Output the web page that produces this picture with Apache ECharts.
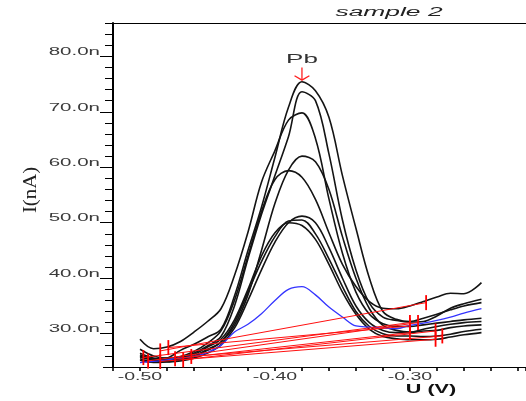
<!DOCTYPE html>
<html><head><meta charset="utf-8">
<script src="https://cdn.jsdelivr.net/npm/echarts@6/dist/echarts.min.js"></script>
<style>html,body{margin:0;padding:0;background:#fff}#c{width:526px;height:401px}</style>
</head><body><div id="c"></div>
<script>
// Potential (V) sampling grid
const xs = [-0.50,-0.49,-0.48,-0.47,-0.46,-0.45,-0.44,-0.43,-0.42,-0.41,-0.40,-0.39,-0.38,-0.37,-0.36,-0.35,-0.34,-0.33,-0.32,-0.31,-0.30,-0.29,-0.28,-0.27,-0.26,-0.247];
// Currents (nA), black voltammograms
const curveA = [26.0,25.4,25.6,27.0,28.1,29.4,30.8,36.8,45.0,52.8,61.8,70.8,75.4,73.8,69.0,58.5,49.0,40.0,34.0,32.6,32.2,32.8,33.5,34.3,35.0,35.6];
const curveB = [25.5,25.0,25.0,25.6,26.5,27.8,29.5,35.0,43.5,51.5,58.5,65.5,73.6,72.0,62.4,50.5,41.5,35.5,33.0,32.4,32.1,32.2,33.2,34.6,35.4,36.2];
const curveC = [29.0,27.3,27.6,28.6,30.3,32.2,34.5,40.5,48.3,57.3,63.0,68.5,69.8,65.2,54.3,44.5,37.5,33.5,31.8,31.3,31.3,31.6,31.9,32.2,32.5,32.8];
const curveD = [26.5,25.6,25.3,25.5,26.0,27.2,28.5,31.5,37.0,45.0,53.5,59.5,62.0,61.0,56.0,47.5,40.0,34.5,31.5,30.6,30.3,30.8,31.3,31.7,32.0,32.2];
const curveE = [27.2,26.0,25.6,25.9,26.8,28.3,30.5,36.0,44.0,52.0,57.8,59.4,58.2,54.2,48.2,42.5,38.5,35.8,34.6,34.5,35.0,35.8,36.6,37.3,37.2,39.2];
const curveF = [25.2,24.8,24.9,25.1,25.6,26.5,28.0,31.0,36.0,41.5,46.5,50.0,51.2,50.0,45.5,40.0,35.0,32.0,30.6,30.2,30.2,30.5,30.6,31.1,31.4,31.6];
const curveG = [25.8,25.2,25.0,25.3,25.9,27.0,28.5,32.0,37.5,43.0,47.5,50.3,50.5,48.0,43.5,38.5,34.0,31.3,30.0,29.6,29.6,29.5,29.6,29.9,30.4,30.8];
const curveH = [26.2,25.4,25.2,25.6,26.3,27.6,29.0,32.5,38.0,44.0,48.2,50.0,49.5,47.0,42.5,37.5,33.5,30.8,29.5,29.1,28.9,28.9,29.0,29.4,29.8,30.2];
// Blue voltammogram
const curveBlue = [24.8,25.0,25.3,25.6,25.9,26.6,27.9,30.3,31.7,33.6,36.0,38.0,38.5,37.0,34.8,33.0,31.4,31.2,31.0,30.9,31.5,31.9,32.4,33.0,33.7,34.5];
// Red baselines (start / end points)
const baseX1 = [-0.4975,-0.494,-0.479,-0.474,-0.485,-0.468,-0.462,-0.485];
const baseY1 = [25.7,25.1,27.5,25.5,26.9,25.3,25.9,25.0];
const baseX2 = [-0.300,-0.294,-0.300,-0.300,-0.288,-0.281,-0.276,-0.281];
const baseY2 = [32.0,32.0,31.4,30.2,35.6,30.5,29.6,29.0];
// Axis tick labels
const yLabelValues = [30,40,50,60,70,80];
const xLabelValues = [-0.50,-0.40,-0.30];
const titleText = 'sample 2';
const peakLabel = 'Pb';
const xName = 'U (V)';
const yName = 'I(nA)';

const blacks = [curveA,curveB,curveC,curveD,curveE,curveF,curveG,curveH];
const series = [];
blacks.forEach(c => series.push({
  type:'line', data: xs.map((x,i)=>[x,c[i]]), showSymbol:false, smooth:0.35,
  lineStyle:{color:'#141414', width:1.6}, silent:true, z:2
}));
series.push({type:'line', data: xs.map((x,i)=>[x,curveBlue[i]]), showSymbol:false, smooth:0.35,
  lineStyle:{color:'#3434ff', width:1.3}, silent:true, z:3});
baseX1.forEach((x,i)=>series.push({
  type:'line', data:[[x,baseY1[i]],[baseX2[i],baseY2[i]]], symbol:'rect', symbolSize:[1.8,15],
  showSymbol:true, itemStyle:{color:'#ff0000'}, lineStyle:{color:'#ff1010', width:1}, silent:true, z:4
}));
// Peak arrow from tallest curve's maximum
let iMax = 0; curveA.forEach((v,i)=>{ if (v>curveA[iMax]) iMax=i; });
const px = xs[iMax], py = curveA[iMax];
series.push({type:'line', data:[[px,py+2.6],[px,py+0.3]], showSymbol:false, lineStyle:{color:'#ff2020',width:1.3}, silent:true, z:5});
series.push({type:'line', data:[[px-0.0055,py+1.1],[px,py+0.3],[px+0.0055,py+1.1]], showSymbol:false, lineStyle:{color:'#ff2020',width:1.3}, silent:true, z:5});

const chart = echarts.init(document.getElementById('c'));
chart.setOption({
  animation:false,
  backgroundColor:'#fff',
  grid:{left:113, right:0, top:23, bottom:34},
  xAxis:[{
    type:'value', min:-0.52, max:-0.214, interval:0.02, position:'bottom',
    axisLine:{show:true, onZero:false, lineStyle:{color:'#000', width:1}},
    axisTick:{show:true, inside:false, length:4, lineStyle:{color:'#000', width:1.6}},
    axisLabel:{show:false},
    splitLine:{show:false}
  },{
    type:'value', min:-0.52, max:-0.214, position:'top',
    axisLine:{show:true, onZero:false, lineStyle:{color:'#000', width:1}},
    axisTick:{show:false}, axisLabel:{show:false}, splitLine:{show:false}
  }],
  yAxis:[{
    type:'value', min:24, max:86, interval:2, position:'left',
    axisLine:{show:true, onZero:false, lineStyle:{color:'#000', width:2}},
    axisTick:{show:true, length:8, lineStyle:{color:'#000', width:1}},
    axisLabel:{show:false}, splitLine:{show:false}
  },{
    type:'value', min:24, max:86, position:'left',
    axisLine:{show:false},
    axisTick:{show:true, length:13, customValues:yLabelValues, lineStyle:{color:'#000', width:1}},
    axisLabel:{show:false},
    splitLine:{show:false}
  }],
  series: series
});

// Stretched tick labels placed through the axes' own scales
const g = [];
yLabelValues.forEach(v=>{
  const yy = chart.convertToPixel({yAxisIndex:0}, v);
  g.push({type:'text', x:100, y:yy+1, scaleX:2.05,
    style:{text:v.toFixed(1)+'n', font:'10px "Liberation Sans"', fill:'#3a3a3a', align:'right', verticalAlign:'bottom'}});
});
xLabelValues.forEach(v=>{
  const xx = chart.convertToPixel({xAxisIndex:0}, v);
  g.push({type:'text', x:xx, y:372, scaleX:1.95,
    style:{text:v.toFixed(2), font:'10px "Liberation Sans"', fill:'#3a3a3a', align:'center', verticalAlign:'top'}});
});
g.push({type:'text', x:389, y:13, scaleX:2.2, style:{text:titleText, font:'italic 12px "Liberation Sans"', fill:'#222', align:'center', verticalAlign:'middle'}});
g.push({type:'text', x:chart.convertToPixel({xAxisIndex:0}, px), y:59, scaleX:2.0, style:{text:peakLabel, font:'13px "Liberation Sans"', fill:'#333', align:'center', verticalAlign:'middle'}});
g.push({type:'text', x:431, y:390, scaleX:1.8, style:{text:xName, font:'bold 12px "Liberation Sans"', fill:'#111', align:'center', verticalAlign:'middle'}});
g.push({type:'text', x:31, y:190, rotation:Math.PI/2, scaleX:1.6, scaleY:1.4, style:{text:yName, font:'13px "Liberation Serif"', fill:'#222', align:'center', verticalAlign:'middle'}});
g.push({type:'line', shape:{x1:103, y1:367.5, x2:113, y2:367.5}, style:{stroke:'#000', lineWidth:1}});
chart.setOption({graphic:g});
</script></body></html>
